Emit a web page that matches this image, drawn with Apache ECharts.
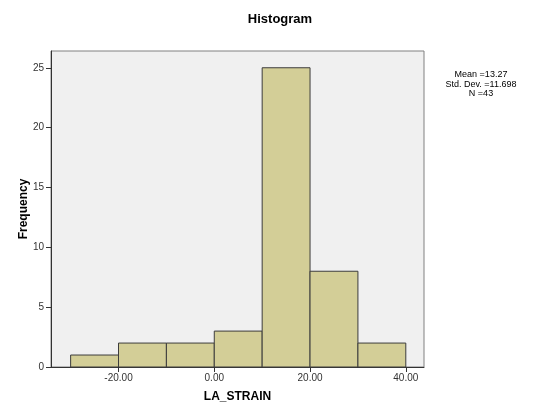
<!DOCTYPE html>
<html><head><meta charset="utf-8">
<script src="https://cdn.jsdelivr.net/npm/echarts@6/dist/echarts.min.js"></script>
<style>html,body{margin:0;padding:0;background:#fff}#c{width:533px;height:412px}</style>
</head><body><div id="c"></div>
<script>
const binStart = [-30, -20, -10, 0, 10, 20, 30];
const binEnd = [-20, -10, 0, 10, 20, 30, 40];
const counts = [1, 2, 2, 3, 25, 8, 2];
const xTicks = [-20, 0, 20, 40];
const yTicks = [0, 5, 10, 15, 20, 25];
const statsLines = ['Mean =13.27', 'Std. Dev. =11.698', 'N =43'];

const chart = echarts.init(document.getElementById('c'), null, {renderer: 'canvas'});
const font = '"Liberation Sans", Arial, sans-serif';
const data = binStart.map((s, i) => [s, binEnd[i], counts[i]]);
chart.setOption({
  backgroundColor: '#fff',
  animation: false,
  title: {
    text: 'Histogram', left: 275, top: 8, textAlign: 'center',
    textStyle: {fontFamily: font, fontSize: 13, fontWeight: 'bold', color: '#000'}
  },
  graphic: [{
    type: 'text', x: 481, y: 70,
    style: {text: statsLines.join('\n'), fontFamily: font, fontSize: 9, lineHeight: 9.5, fill: '#000', align: 'center', verticalAlign: 'top'}
  }],
  grid: {left: 51, right: 109, top: 51, bottom: 45, show: true, backgroundColor: '#f0f0f0', borderColor: '#808080', borderWidth: 1},
  xAxis: {
    type: 'value', min: -34.1, max: 43.8,
    name: 'LA_STRAIN', nameLocation: 'middle', nameGap: 24,
    nameTextStyle: {fontFamily: font, fontSize: 12, fontWeight: 'bold', color: '#000'},
    axisLine: {show: true, onZero: false, lineStyle: {color: '#333'}},
    axisTick: {show: true, length: 5, customValues: xTicks, lineStyle: {color: '#333'}},
    axisLabel: {customValues: xTicks, formatter: v => v.toFixed(2), fontFamily: font, fontSize: 10, color: '#333', margin: 6},
    splitLine: {show: false}
  },
  yAxis: {
    type: 'value', min: 0, max: 26.4, interval: 5,
    name: 'Frequency', nameLocation: 'middle', nameGap: 21, nameRotate: 90, nameMoveOverlap: false,
    nameTextStyle: {fontFamily: font, fontSize: 12, fontWeight: 'bold', color: '#000'},
    axisLine: {show: true, onZero: false, lineStyle: {color: '#333'}},
    axisTick: {show: true, length: 5, customValues: yTicks, lineStyle: {color: '#333'}},
    axisLabel: {customValues: yTicks, fontFamily: font, fontSize: 10, color: '#333', margin: 7},
    splitLine: {show: false}
  },
  series: [{
    type: 'custom',
    data: data,
    encode: {x: [0, 1], y: 2},
    renderItem: function (params, api) {
      const p0 = api.coord([api.value(0), api.value(2)]);
      const p1 = api.coord([api.value(1), 0]);
      return {
        type: 'rect',
        shape: {x: p0[0], y: p0[1], width: p1[0] - p0[0], height: p1[1] - p0[1]},
        style: {fill: '#d3ce97', stroke: '#3c3c3c', lineWidth: 1}
      };
    }
  }]
});
</script></body></html>
